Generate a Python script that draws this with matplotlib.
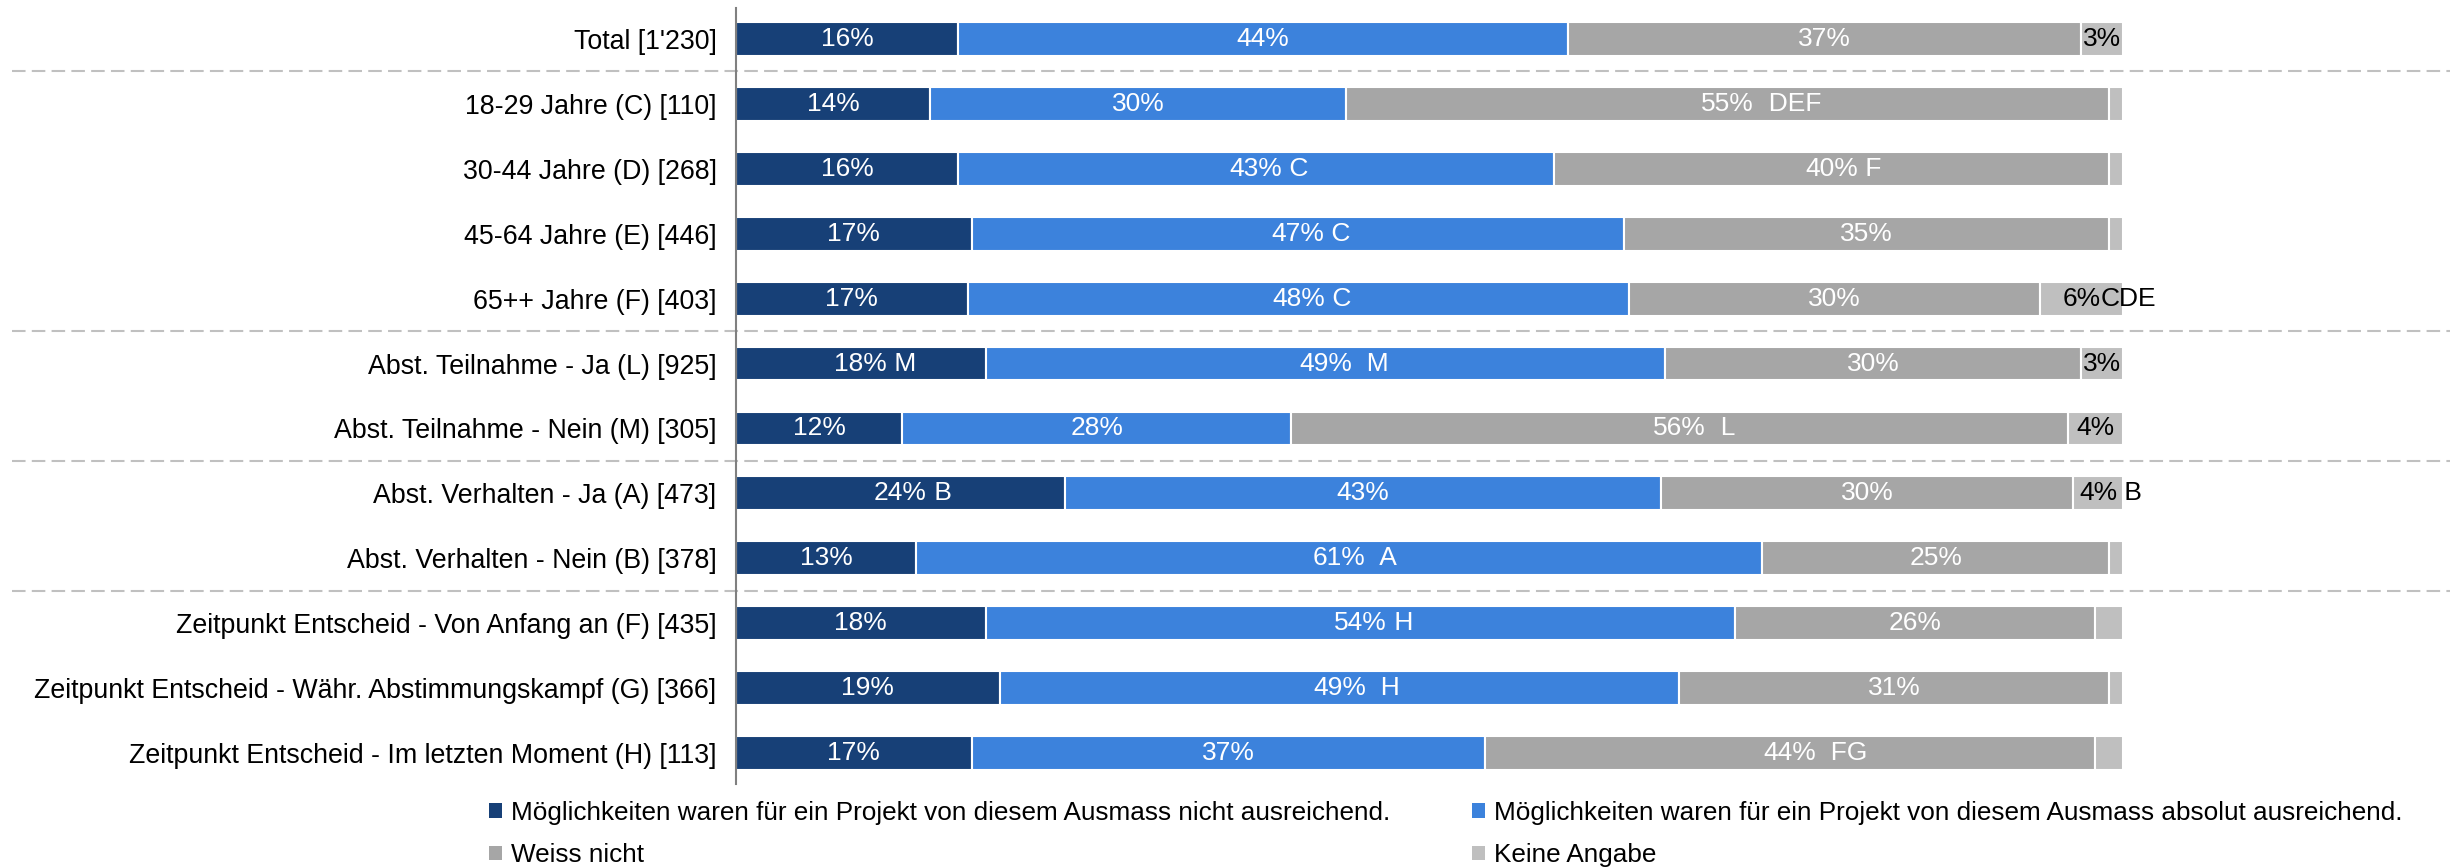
import matplotlib.pyplot as plt
from matplotlib.patches import Patch

plt.rcParams['font.family'] = ['Liberation Sans', 'DejaVu Sans']

# --- Daten ---
gruppen = [
    "Total [1'230]",
    "18-29 Jahre (C) [110]",
    "30-44 Jahre (D) [268]",
    "45-64 Jahre (E) [446]",
    "65++ Jahre (F) [403]",
    "Abst. Teilnahme - Ja (L) [925]",
    "Abst. Teilnahme - Nein (M) [305]",
    "Abst. Verhalten - Ja (A) [473]",
    "Abst. Verhalten - Nein (B) [378]",
    "Zeitpunkt Entscheid - Von Anfang an (F) [435]",
    "Zeitpunkt Entscheid - Währ. Abstimmungskampf (G) [366]",
    "Zeitpunkt Entscheid - Im letzten Moment (H) [113]",
]

nicht_ausreichend = [16, 14, 16, 17, 16.7, 18, 12, 23.7, 13, 18, 19, 17]
absolut_ausreichend = [44, 30, 43, 47, 47.7, 49, 28, 43.0, 61, 54, 49, 37]
weiss_nicht = [37, 55, 40, 35, 29.6, 30, 56, 29.7, 25, 26, 31, 44]
keine_angabe = [3, 1, 1, 1, 6.0, 3, 4, 3.6, 1, 2, 1, 2]

# Signifikanz-Buchstaben je Segment
sig_nicht = ["", "", "", "", "", " M", "", " B", "", "", "", ""]
sig_absolut = ["", "", " C", " C", " C", "  M", "", "", "  A", " H", "  H", ""]
sig_weiss = ["", "  DEF", " F", "", "", "", "  L", "", "", "", "", "  FG"]
sig_keine = ["", "", "", "", "CDE", "", "", " B", "", "", "", ""]

serien = [
    "Möglichkeiten waren für ein Projekt von diesem Ausmass nicht ausreichend.",
    "Möglichkeiten waren für ein Projekt von diesem Ausmass absolut ausreichend.",
    "Weiss nicht",
    "Keine Angabe",
]
farben = ["#174077", "#3C82DC", "#A6A6A6", "#BFBFBF"]
textfarben = ["white", "white", "white", "black"]

trennlinien = [0.5, 4.5, 6.5, 8.5]

# --- Plot ---
fig = plt.figure(figsize=(24.5, 8.68), dpi=100)
ax = fig.add_axes([736 / 2450, 1 - 784 / 868, 1387 / 2450, 776 / 868])

werte = [nicht_ausreichend, absolut_ausreichend, weiss_nicht, keine_angabe]
buchstaben = [sig_nicht, sig_absolut, sig_weiss, sig_keine]
y = list(range(len(gruppen)))
links = [0.0] * len(gruppen)

for s, (vals, sigs) in enumerate(zip(werte, buchstaben)):
    ax.barh(y, vals, left=links, height=0.52, color=farben[s],
            edgecolor='white', linewidth=1.5)
    for i, (v, sig) in enumerate(zip(vals, sigs)):
        if v >= 3:
            mitte = links[i] + v / 2
            t = ax.text(mitte, i, f"{round(v)}%", ha='center', va='center',
                        color=textfarben[s], fontsize=19)
            if sig:
                # Buchstaben direkt rechts an die Prozentzahl anhängen
                ax.annotate(sig, xy=(1, 0.5), xycoords=t, ha='left', va='center',
                            color=textfarben[s], fontsize=19, annotation_clip=False)
        links[i] += v

for yy in trennlinien:
    ax.axhline(yy, xmin=(12 - 736) / 1387, xmax=(2450 - 736) / 1387,
               color='#C0C0C0', linewidth=1.5, linestyle=(0, (6.5, 3)), clip_on=False)

ax.set_xlim(0, 100)
ax.set_ylim(len(gruppen) - 1 + 0.478, -0.478)
ax.set_yticks(y)
ax.set_yticklabels(gruppen, fontsize=19.3)
ax.set_xticks([])
ax.tick_params(axis='y', length=0, pad=14)
for sp in ['top', 'right', 'bottom']:
    ax.spines[sp].set_visible(False)
ax.spines['left'].set_color('#808080')
ax.spines['left'].set_linewidth(1.5)

# Legende zeilenweise: matplotlib füllt spaltenweise, daher umsortieren
reihenfolge = [0, 2, 1, 3]
handles = [Patch(facecolor=farben[k], edgecolor='none', label=serien[k]) for k in reihenfolge]
fig.legend(handles=handles, ncol=2, loc='upper left', bbox_to_anchor=(489 / 2450, 1 - 801 / 868),
           frameon=False, fontsize=18.8, handlelength=0.5, handleheight=0.5,
           handletextpad=0.35, columnspacing=3.12, labelspacing=0.7, borderpad=0,
           borderaxespad=0)

fig.savefig('out.png', dpi=100)
